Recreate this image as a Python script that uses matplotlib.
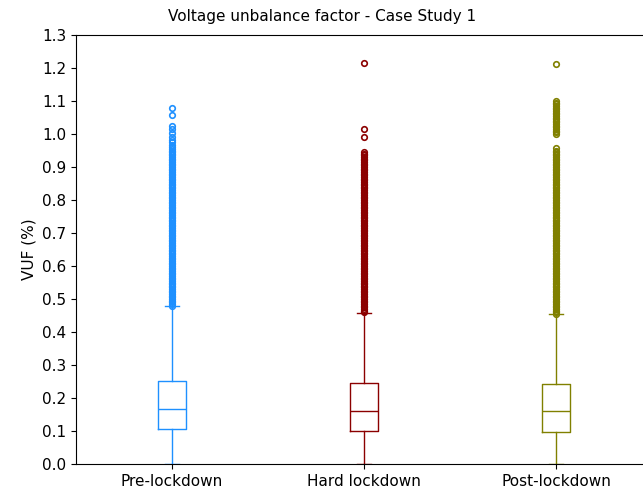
import matplotlib
matplotlib.use("Agg")
import matplotlib.pyplot as plt

plt.rcParams["font.size"] = 11

# dane
labels = ["Pre-lockdown", "Hard lockdown", "Post-lockdown"]
colors = ["dodgerblue", "darkred", "olive"]
q1 = [0.105, 0.101, 0.098]
med = [0.167, 0.161, 0.161]
q3 = [0.252, 0.246, 0.242]
whislo = [0.0, 0.0, 0.0]
whishi = [0.479, 0.457, 0.454]

# wartosci odstajace (gesty pas + pojedyncze punkty)
fliers_pre = [0.480, 0.485, 0.490, 0.495, 0.500, 0.505, 0.510, 0.515, 0.520, 0.525,
              0.530, 0.535, 0.540, 0.545, 0.550, 0.555, 0.560, 0.565, 0.570, 0.575,
              0.580, 0.585, 0.590, 0.595, 0.600, 0.605, 0.610, 0.615, 0.620, 0.625,
              0.630, 0.635, 0.640, 0.645, 0.650, 0.655, 0.660, 0.665, 0.670, 0.675,
              0.680, 0.685, 0.690, 0.695, 0.700, 0.705, 0.710, 0.715, 0.720, 0.725,
              0.730, 0.735, 0.740, 0.745, 0.750, 0.755, 0.760, 0.765, 0.770, 0.775,
              0.780, 0.785, 0.790, 0.795, 0.800, 0.805, 0.810, 0.815, 0.820, 0.825,
              0.830, 0.835, 0.840, 0.845, 0.850, 0.855, 0.860, 0.865, 0.870, 0.875,
              0.880, 0.885, 0.890, 0.895, 0.900, 0.905, 0.910, 0.915, 0.920, 0.925,
              0.930, 0.935, 0.940, 0.945, 0.950, 0.955, 0.960, 0.967,
              0.975, 0.983, 0.992, 1.004, 1.014, 1.024, 1.058, 1.078]
fliers_hard = [0.460, 0.465, 0.470, 0.475, 0.480, 0.485, 0.490, 0.495, 0.500, 0.505,
               0.510, 0.515, 0.520, 0.525, 0.530, 0.535, 0.540, 0.545, 0.550, 0.555,
               0.560, 0.565, 0.570, 0.575, 0.580, 0.585, 0.590, 0.595, 0.600, 0.605,
               0.610, 0.615, 0.620, 0.625, 0.630, 0.635, 0.640, 0.645, 0.650, 0.655,
               0.660, 0.665, 0.670, 0.675, 0.680, 0.685, 0.690, 0.695, 0.700, 0.705,
               0.710, 0.715, 0.720, 0.725, 0.730, 0.735, 0.740, 0.745, 0.750, 0.755,
               0.760, 0.765, 0.770, 0.775, 0.780, 0.785, 0.790, 0.795, 0.800, 0.805,
               0.810, 0.815, 0.820, 0.825, 0.830, 0.835, 0.840, 0.845, 0.850, 0.855,
               0.860, 0.865, 0.870, 0.875, 0.880, 0.885, 0.890, 0.895, 0.900, 0.905,
               0.910, 0.915, 0.920, 0.925, 0.930, 0.935, 0.940, 0.946,
               0.990, 1.014, 1.214]
fliers_post = [0.455, 0.460, 0.465, 0.470, 0.475, 0.480, 0.485, 0.490, 0.495, 0.500,
               0.505, 0.510, 0.515, 0.520, 0.525, 0.530, 0.535, 0.540, 0.545, 0.550,
               0.555, 0.560, 0.565, 0.570, 0.575, 0.580, 0.585, 0.590, 0.595, 0.600,
               0.605, 0.610, 0.615, 0.620, 0.625, 0.630, 0.635, 0.640, 0.645, 0.650,
               0.655, 0.660, 0.665, 0.670, 0.675, 0.680, 0.685, 0.690, 0.695, 0.700,
               0.705, 0.710, 0.715, 0.720, 0.725, 0.730, 0.735, 0.740, 0.745, 0.750,
               0.755, 0.760, 0.765, 0.770, 0.775, 0.780, 0.785, 0.790, 0.795, 0.800,
               0.805, 0.810, 0.815, 0.820, 0.825, 0.830, 0.835, 0.840, 0.845, 0.850,
               0.855, 0.860, 0.865, 0.870, 0.875, 0.880, 0.885, 0.890, 0.895, 0.900,
               0.905, 0.910, 0.915, 0.920, 0.925, 0.930, 0.935, 0.940, 0.945, 0.950,
               0.957,
               1.000, 1.005, 1.010, 1.015, 1.020, 1.025, 1.030, 1.035, 1.040, 1.045,
               1.050, 1.055, 1.060, 1.065, 1.070, 1.075, 1.080, 1.085, 1.090, 1.095,
               1.100, 1.211]
fliers = [fliers_pre, fliers_hard, fliers_post]

fig = plt.figure(figsize=(6.43, 4.95), dpi=100)
ax = fig.add_axes([76 / 643, 31 / 495, 576 / 643, 429 / 495])

for i in range(3):
    st = [{"med": med[i], "q1": q1[i], "q3": q3[i], "whislo": whislo[i],
           "whishi": whishi[i], "fliers": fliers[i]}]
    c = colors[i]
    ax.bxp(st, positions=[i + 1], widths=0.15,
           boxprops=dict(color=c), medianprops=dict(color=c),
           whiskerprops=dict(color=c), capprops=dict(color=c),
           flierprops=dict(marker="o", markerfacecolor="none", markeredgecolor=c,
                           markersize=4, markeredgewidth=1.2))

ax.set_xticks([1, 2, 3])
ax.set_xticklabels(labels)
ax.set_xlim(0.5, 3.5)
ax.set_ylim(0, 1.3)
ax.set_yticks([0.0, 0.1, 0.2, 0.3, 0.4, 0.5, 0.6, 0.7, 0.8, 0.9, 1.0, 1.1, 1.2, 1.3])
ax.set_ylabel("VUF (%)")
ax.set_title("Voltage unbalance factor - Case Study 1", x=0.427, fontsize=11, pad=10)

plt.savefig("out.png", dpi=100)
